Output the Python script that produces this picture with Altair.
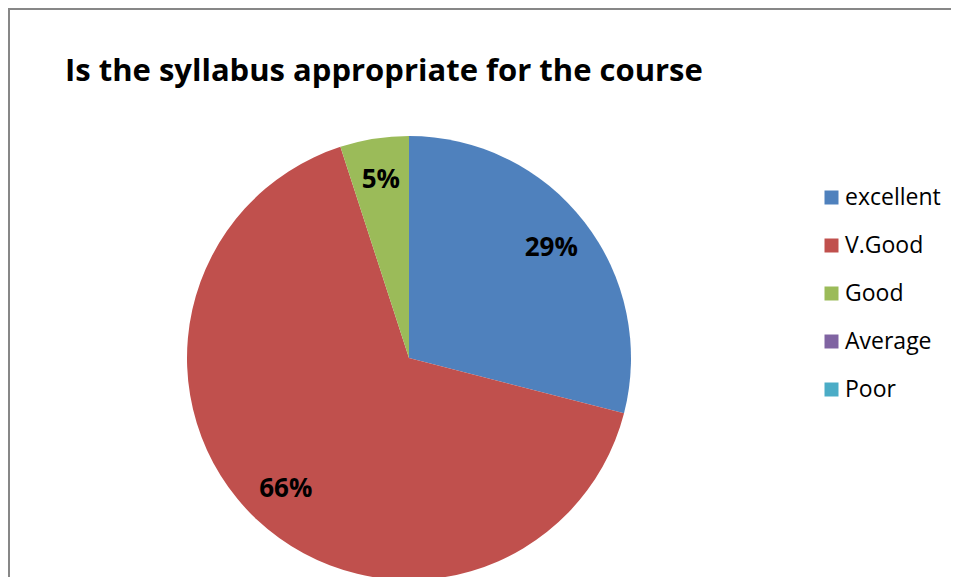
import altair as alt
import pandas as pd

title_text = "Is the syllabus appropriate for the course"
categories = ["excellent", "V.Good", "Good", "Average", "Poor"]
values = [29, 66, 5, 0, 0]
labels = ["29%", "66%", "5%", "0%", "0%"]
colors = ["#4F81BD", "#C0504D", "#9BBB59", "#8064A2", "#4BACC6"]

W, H = 943, 569
CX, CY = 401, 350

df = pd.DataFrame({
    "category": categories,
    "value": values,
    "label": labels,
    "order": list(range(len(categories))),
})

base = alt.Chart(df).encode(
    theta=alt.Theta("value:Q", stack=True),
    order=alt.Order("order:Q"),
    x=alt.value(CX),
    y=alt.value(CY),
)

pie = base.mark_arc(outerRadius=222).encode(
    color=alt.Color(
        "category:N",
        sort=categories,
        scale=alt.Scale(domain=categories, range=colors),
        legend=alt.Legend(
            title=None,
            orient="none",
            legendX=812,
            legendY=178,
            padding=0,
            symbolType="square",
            symbolSize=196,
            symbolStrokeWidth=0,
            labelFont="Open Sans",
            labelFontSize=23,
            labelColor="#000000",
            labelOffset=2,
            rowPadding=24,
        ),
    )
)

txt = base.mark_text(
    radius=180, font="Open Sans", fontWeight="bold", fontSize=26, color="#000000"
).encode(text=alt.Text("label:N")).transform_filter("datum.value > 0")

title = alt.Chart(pd.DataFrame({"t": [title_text]})).mark_text(
    align="left", baseline="alphabetic", font="Open Sans", fontWeight="bold",
    fontSize=31, color="#000000"
).encode(x=alt.value(57), y=alt.value(73), text="t:N")

border_df = pd.DataFrame({"k": [0]})
left_rule = alt.Chart(border_df).mark_rule(color="#878787", strokeWidth=2).encode(
    x=alt.value(1), y=alt.value(0), y2=alt.value(H)
)
top_rule = alt.Chart(border_df).mark_rule(color="#878787", strokeWidth=2).encode(
    x=alt.value(0), x2=alt.value(W), y=alt.value(1)
)

chart = alt.layer(pie, txt, title, left_rule, top_rule).properties(
    width=W, height=H, padding=0,
    autosize=alt.AutoSizeParams(type="none"),
    background="white",
).configure_view(stroke=None)

chart.save("out.html", embed_options={"renderer": "svg", "actions": False})
